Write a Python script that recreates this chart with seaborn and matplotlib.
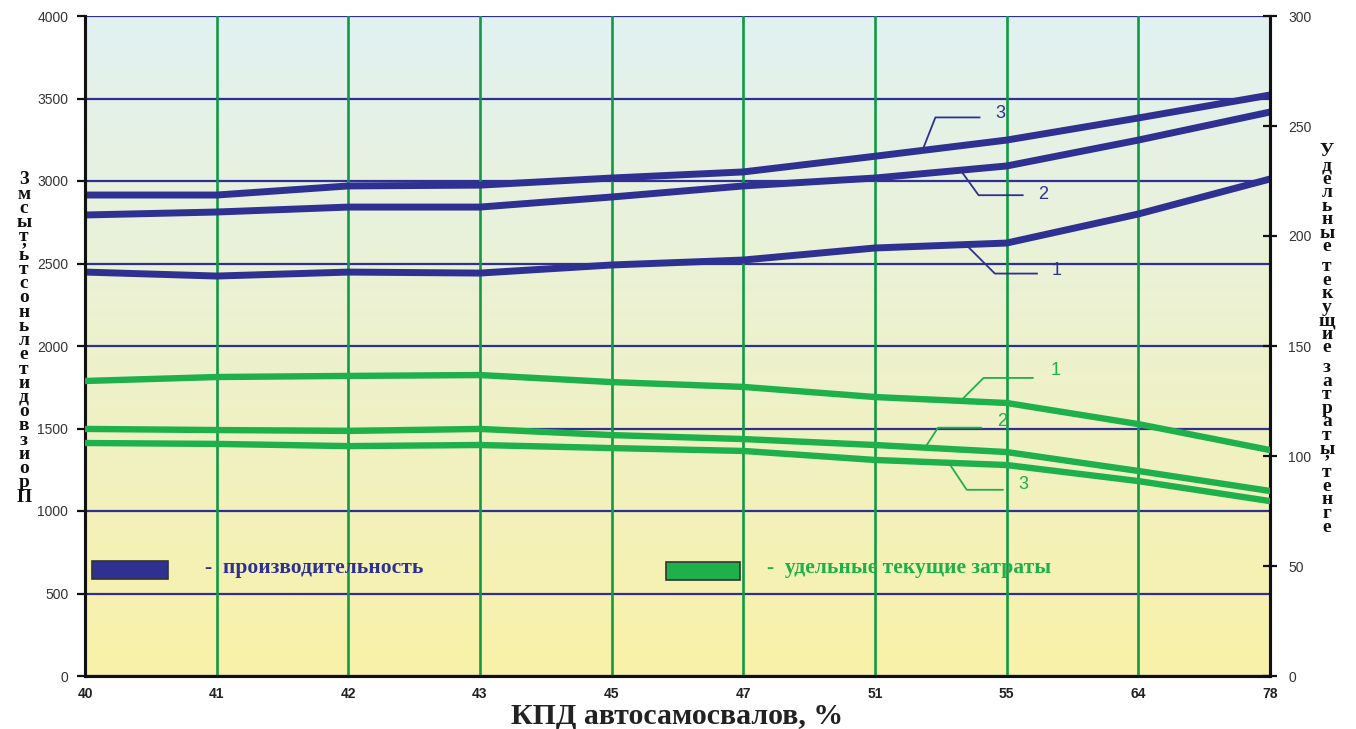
import numpy as np
import pandas as pd
import matplotlib
matplotlib.use("Agg")
import matplotlib.pyplot as plt
from matplotlib.patches import Rectangle
import seaborn as sns

# ---- data -----------------------------------------------------------------
kpd_labels = ["40", "41", "42", "43", "45", "47", "51", "55", "64", "78"]

# productivity, thousand m3 (left axis)
prod_1 = [2448, 2424, 2448, 2442, 2491, 2521, 2594, 2624, 2800, 3012]
prod_2 = [2794, 2812, 2842, 2842, 2903, 2970, 3018, 3091, 3248, 3418]
prod_3 = [2915, 2915, 2970, 2975, 3018, 3055, 3150, 3248, 3382, 3521]

# specific running costs, tenge (right axis)
cost_1 = [134.1, 135.9, 136.4, 136.8, 133.6, 131.4, 126.8, 124.1, 114.5, 102.7]
cost_2 = [112.3, 111.8, 111.4, 112.3, 109.5, 107.7, 105.0, 101.8, 93.2, 84.1]
cost_3 = [105.9, 105.5, 104.5, 105.0, 103.6, 102.3, 98.2, 95.9, 88.6, 79.5]

left_ticks = [0, 500, 1000, 1500, 2000, 2500, 3000, 3500, 4000]
right_ticks = [0, 50, 100, 150, 200, 250, 300]

BLUE = "#2E3192"
GREEN = "#1DB04B"
GRID_GREEN = "#119A45"

pos = np.arange(len(kpd_labels))
prod_df = pd.DataFrame({
    "pos": np.tile(pos, 3),
    "value": prod_1 + prod_2 + prod_3,
    "curve": ["1"] * 10 + ["2"] * 10 + ["3"] * 10,
})
cost_df = pd.DataFrame({
    "pos": np.tile(pos, 3),
    "value": cost_1 + cost_2 + cost_3,
    "curve": ["1"] * 10 + ["2"] * 10 + ["3"] * 10,
})

sns.set_style("white")
plt.rcParams["font.family"] = ["Liberation Sans", "DejaVu Sans"]

fig = plt.figure(figsize=(13.56, 7.29), dpi=100)
ax = fig.add_axes([85 / 1356, 53 / 729, 1185 / 1356, 660 / 729])
ax2 = ax.twinx()

# vertical colour gradient: pale cyan at top, pale yellow at bottom
top_c = np.array([225, 242, 242]) / 255
bot_c = np.array([249, 241, 168]) / 255
t = np.linspace(0, 1, 256)[:, None]
grad = (top_c * (1 - t) + bot_c * t)[:, None, :]
ax.imshow(grad, extent=[0, len(kpd_labels) - 1, 0, 4000], aspect="auto",
          origin="upper", zorder=0)

# grid
for v in left_ticks:
    ax.axhline(v, color=BLUE, lw=1.6, zorder=1)
for p in pos[1:-1]:
    ax.axvline(p, color=GRID_GREEN, lw=1.9, zorder=1)

# curves
sns.lineplot(data=prod_df, x="pos", y="value", units="curve", estimator=None,
             color=BLUE, lw=5.0, ax=ax, zorder=3, legend=False)
sns.lineplot(data=cost_df, x="pos", y="value", units="curve", estimator=None,
             color=GREEN, lw=4.6, ax=ax2, zorder=3, legend=False)
ax2.set_ylim(0, 300)
ax.set_ylim(0, 4000)
ax.set_xlim(0, len(kpd_labels) - 1)

# axes styling
ax.set_xticks(pos)
ax.set_xticklabels(kpd_labels, fontsize=10, fontweight="bold", color="#222222")
ax.set_yticks(left_ticks)
ax.set_yticklabels([str(v) for v in left_ticks], fontsize=10, color="#333333")
ax2.set_yticks(right_ticks)
ax2.set_yticklabels([str(v) for v in right_ticks], fontsize=10, color="#333333")
ax.set_xlabel("")
ax.set_ylabel("")
ax2.set_ylabel("")
ax.tick_params(axis="y", direction="out", length=6, width=1.6, color="#111111", pad=6)
ax.tick_params(axis="x", direction="inout", length=8, width=1.6, color="#111111", pad=4)
ax2.tick_params(axis="y", direction="inout", length=10, width=1.6, color="#111111", pad=8)
for a in (ax, ax2):
    for sp in ["left", "bottom", "right"]:
        a.spines[sp].set_color("#111111")
        a.spines[sp].set_linewidth(2.2)
    a.spines["top"].set_visible(False)

fig.text(677 / 1356, 1 - 717 / 729, "КПД автосамосвалов, %", ha="center", va="center",
         fontsize=21.5, fontweight="bold", family="Liberation Serif", color="#222222")


def stacked(text, x_px, y_top_px, y_bot_px, size, color):
    """Write text as a column of upright letters, one text per letter."""
    steps = [0.45 if c == " " else (0.3 if c == "," else 1.0) for c in text]
    cum = np.concatenate([[0], np.cumsum(steps[1:])])
    ys = y_top_px + (y_bot_px - y_top_px) * cum / cum[-1]
    for c, y in zip(text, ys):
        if c == " ":
            continue
        fig.text(x_px / 1356, 1 - y / 729, c, ha="center", va="center",
                 fontsize=size, fontweight="bold", family="Liberation Serif", color=color)


# left axis title read from bottom to top, right axis title from top to bottom
left_title = "Производительность, тыс м3"
right_title = "Удельные текущие затраты, тенге"
stacked(left_title[::-1].replace(" ", ""), 24, 180, 497, 14, "#111111")
stacked(right_title, 1327, 152, 527, 14, "#111111")

# legend swatches
ax.add_patch(Rectangle((7 / 1185, 97 / 660), 76 / 1185, 18 / 660, transform=ax.transAxes,
                       facecolor=BLUE, edgecolor="#333333", lw=1.2, zorder=4))
ax.text(120 / 1185, 108 / 660, "-  производительность", transform=ax.transAxes,
        ha="left", va="center", fontsize=15.5, fontweight="bold",
        family="Liberation Serif", color=BLUE, zorder=4)
ax.add_patch(Rectangle((581 / 1185, 96 / 660), 74 / 1185, 18 / 660, transform=ax.transAxes,
                       facecolor=GREEN, edgecolor="#333333", lw=1.2, zorder=4))
ax.text(682 / 1185, 108 / 660, "-  удельные текущие затраты", transform=ax.transAxes,
        ha="left", va="center", fontsize=15.5, fontweight="bold",
        family="Liberation Serif", color=GREEN, zorder=4)

fig.canvas.draw()


def leader(axis, series, xp, elbow, end, label_off, text, color):
    yv = np.interp(xp, pos, series)
    ax_disp = axis.transData.transform((xp, yv))
    pts = [ax_disp, ax_disp + np.array(elbow), ax_disp + np.array(end)]
    data_pts = axis.transData.inverted().transform(pts)
    axis.plot(data_pts[:, 0], data_pts[:, 1], color=color, lw=1.3, zorder=4,
              solid_capstyle="butt")
    lab = axis.transData.inverted().transform(ax_disp + np.array(label_off))
    axis.text(lab[0], lab[1], text, ha="center", va="center", fontsize=13,
              color=color, zorder=5)


leader(ax, prod_3, 6.36, (13, 33), (58, 33), (78, 37), "3", BLUE)
leader(ax, prod_2, 6.65, (18, -25), (63, -25), (83, -24), "2", BLUE)
leader(ax, prod_1, 6.69, (29, -29), (72, -29), (91, -26), "1", BLUE)
leader(ax2, cost_1, 6.65, (23, 23), (73, 23), (95, 30), "1", GREEN)
leader(ax2, cost_2, 6.38, (13, 20), (57, 20), (77, 26), "2", GREEN)
leader(ax2, cost_3, 6.56, (18, -27), (55, -27), (75, -22), "3", GREEN)

fig.savefig("out.png", dpi=100)
